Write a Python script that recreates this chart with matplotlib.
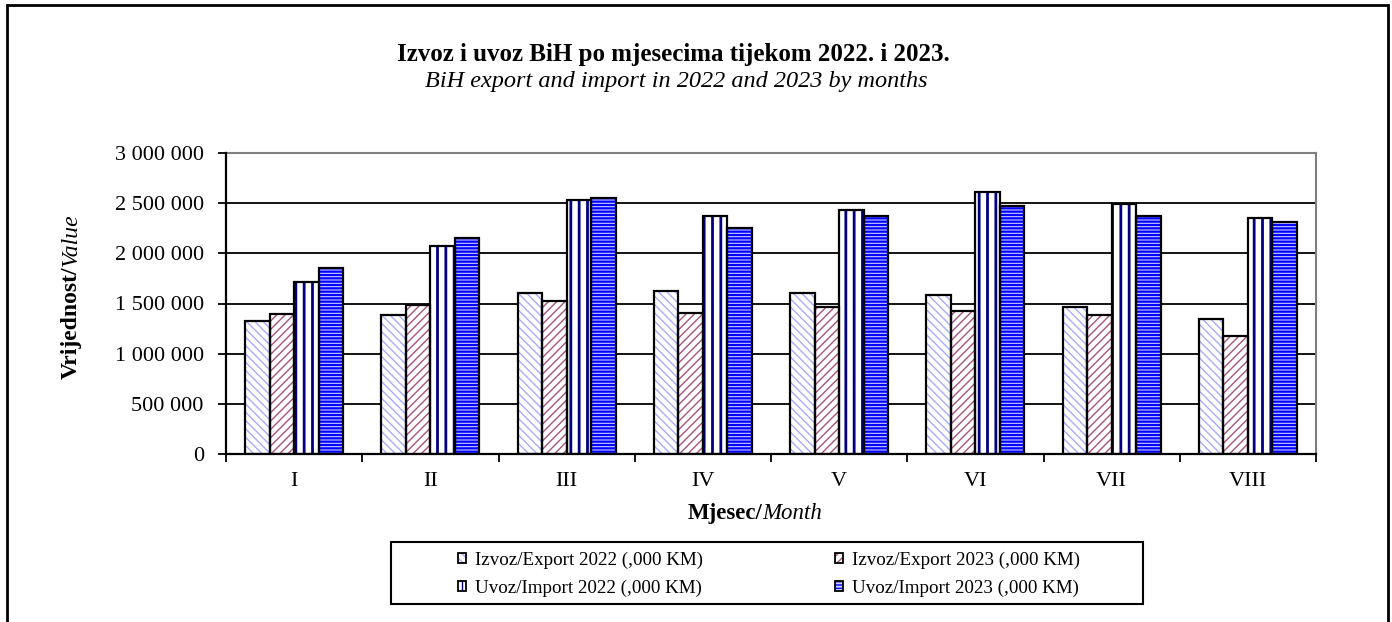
import matplotlib
matplotlib.use('Agg')
import matplotlib.pyplot as plt
import matplotlib.patches as mpatches
import numpy as np

# ── DATA ──────────────────────────────────────────────────
months = ["I", "II", "III", "IV", "V", "VI", "VII", "VIII"]
export_2022 = [1326000, 1386000, 1603000, 1623000, 1603000, 1587000, 1470000, 1350000]
export_2023 = [1400000, 1482000, 1520000, 1404000, 1470000, 1428000, 1390000, 1175000]
import_2022 = [1718000, 2070000, 2527000, 2371000, 2428000, 2607000, 2490000, 2350000]
import_2023 = [1857000, 2150000, 2547000, 2251000, 2371000, 2470000, 2370000, 2310000]
series_labels = ["Izvoz/Export 2022 (,000 KM)", "Izvoz/Export 2023 (,000 KM)",
                 "Uvoz/Import 2022 (,000 KM)", "Uvoz/Import 2023 (,000 KM)"]
y_ticks = [0, 500000, 1000000, 1500000, 2000000, 2500000, 3000000]

plt.rcParams['font.family'] = ['Liberation Serif', 'DejaVu Serif']

W, H = 1392, 622
fig = plt.figure(figsize=(W / 100, H / 100), dpi=100)
ax = fig.add_axes([226/W, 1-454/H, (1316-226)/W, (454-153)/H])

x = np.arange(len(months))
w = 0.18
styles = [
    # face, hatch colour, hatch, hatch lw
    ("white", "#aaaaff", "\\\\\\\\", 1.0),
    ("white", "#a8527c", "////", 1.0),
    ("white", "#000080", "||", 2.0),
    ("#ccccff", "#0000ff", "-----", 1.6),
]
series = [export_2022, export_2023, import_2022, import_2023]
handles = []
for i, (vals, (fc, hc, hatch, hlw)) in enumerate(zip(series, styles)):
    pos = x + (i - 1.5) * w
    with plt.rc_context({'hatch.linewidth': hlw}):
        ax.bar(pos, vals, w, color=fc, edgecolor=hc, hatch=hatch, linewidth=0, zorder=3)
        h = mpatches.Patch(facecolor=fc, edgecolor=hc, hatch=hatch, linewidth=0)
    ax.bar(pos, vals, w, fill=False, edgecolor="black", linewidth=1.6, zorder=4)
    outline = mpatches.Patch(fill=False, edgecolor="black", linewidth=1.3)
    handles.append((h, outline))

ax.set_ylim(0, 3000000)
ax.set_xlim(-0.5, len(months) - 0.5)
ax.set_yticks(y_ticks)
ax.set_yticklabels([f"{v:,}".replace(",", " ") for v in y_ticks], fontsize=16)
ax.set_xticks(x)
ax.set_xticklabels(months, fontsize=16)
ax.set_xticks(np.arange(-0.5, len(months)), minor=True)
ax.tick_params(axis='x', which='major', length=0, pad=13)
ax.tick_params(axis='x', which='minor', length=6, width=1.3, direction='out')
ax.tick_params(axis='y', length=6, width=1.3, direction='out', pad=10)
ax.yaxis.grid(True, color="black", linewidth=1.3, zorder=0)
ax.set_axisbelow(True)
for s in ["left", "bottom"]:
    ax.spines[s].set_linewidth(1.6)
    ax.spines[s].set_zorder(5)
for s in ["top", "right"]:
    ax.spines[s].set_color("#808080")
    ax.spines[s].set_linewidth(1.5)

# titles
fig.text(673/W, 1-61/H, "Izvoz i uvoz BiH po mjesecima tijekom 2022. i 2023.",
         ha="center", va="baseline", fontsize=18, fontweight="bold")
fig.text(676/W, 1-87/H, "BiH export and import in 2022 and 2023 by months",
         ha="center", va="baseline", fontsize=17.5, style="italic")

# axis labels (bold + italic pieces)
fig.canvas.draw()
r = fig.canvas.get_renderer()
xl1 = fig.text(0, 1-519/H, "Mjesec/", fontsize=16.5, fontweight="bold", va="baseline")
xl2 = fig.text(0, 1-519/H, "Month", fontsize=16.5, style="italic", va="baseline")
w1 = xl1.get_window_extent(r).width
w2 = xl2.get_window_extent(r).width
cx = 755
xl1.set_x((cx - (w1 + w2) / 2) / W)
xl2.set_x((cx - (w1 + w2) / 2 + w1) / W)

yl1 = fig.text(71/W, 0, "Vrijednost/", fontsize=17, fontweight="bold",
               rotation=90, ha="center", va="bottom")
yl2 = fig.text(71/W, 0, "Value", fontsize=17, style="italic",
               rotation=90, ha="center", va="bottom")
h1 = yl1.get_window_extent(r).height
h2 = yl2.get_window_extent(r).height
cy = H - 296
yl1.set_y((cy - (h1 + h2) / 2) / H)
yl2.set_y((cy - (h1 + h2) / 2 + h1) / H)

# legend: row-wise order like the original
order = [0, 2, 1, 3]
leg = fig.legend([handles[k] for k in order], [series_labels[k] for k in order],
                 ncol=2, loc="center", bbox_to_anchor=(769/W, 1-574/H),
                 fontsize=13.7, frameon=False,
                 handlelength=0.42, handleheight=0.42, handletextpad=0.47,
                 columnspacing=6.9, borderpad=0.0, labelspacing=0.55)
fig.patches.append(mpatches.Rectangle((391/W, 1-604/H), (1143-391)/W, (604-542)/H,
                                      transform=fig.transFigure, fill=False,
                                      edgecolor="black", linewidth=1.5))

# outer border
fig.patches.append(mpatches.Rectangle((7/W, -0.01), (1388-7)/W, 1.01-5/H,
                                      transform=fig.transFigure, fill=False,
                                      edgecolor="black", linewidth=2))

fig.savefig("out.png", dpi=100)
